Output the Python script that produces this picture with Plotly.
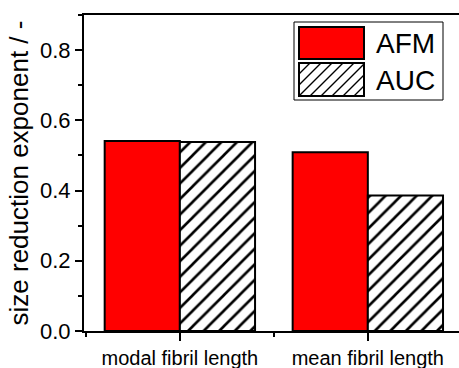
import plotly.graph_objects as go

categories = ["modal fibril length", "mean fibril length"]
afm_values = [0.541, 0.509]
auc_values = [0.538, 0.386]
series_names = ["AFM", "AUC"]

W, H = 459, 368
L, T, B, R = 84, 15, 37, 0
PW, PH = W - L - R, H - T - B

def px(x):
    return (x - L) / PW

def py(y):
    return (T + PH - y) / PH

FONT = "Liberation Sans, Arial, sans-serif"
xpos = list(range(len(categories)))

fig = go.Figure()
fig.add_bar(x=xpos, y=afm_values, name=series_names[0],
            marker=dict(color="#ff0000", line=dict(color="black", width=2)))
fig.add_bar(x=xpos, y=auc_values, name=series_names[1],
            marker=dict(color="white", line=dict(color="black", width=2),
                        pattern=dict(shape="/", fgcolor="#000000", fgopacity=1,
                                     bgcolor="white", size=11, solidity=0.24)))

# custom legend
shapes = []
shapes.append(dict(type="rect", xref="paper", yref="paper",
                   x0=px(294), x1=px(443), y0=py(100), y1=py(22),
                   line=dict(color="black", width=1), fillcolor="white", layer="above"))
shapes.append(dict(type="rect", xref="paper", yref="paper",
                   x0=px(299), x1=px(364), y0=py(59), y1=py(27),
                   line=dict(color="black", width=2), fillcolor="#ff0000", layer="above"))
shapes.append(dict(type="rect", xref="paper", yref="paper",
                   x0=px(299), x1=px(364), y0=py(96), y1=py(63),
                   line=dict(color="black", width=2), fillcolor="white", layer="above"))
x0s, x1s, y0s, y1s = 299, 364, 63, 96
hh = y1s - y0s
path = ""
c = x0s - hh
while c < x1s:
    ax, ay = c, y1s
    bx, by = c + hh, y0s
    if ax < x0s:
        ay = y1s - (x0s - ax)
        ax = x0s
    if bx > x1s:
        by = y0s + (bx - x1s)
        bx = x1s
    if bx > ax:
        path += f"M{px(ax)},{py(ay)} L{px(bx)},{py(by)} "
    c += 11
shapes.append(dict(type="path", xref="paper", yref="paper", path=path,
                   line=dict(color="black", width=1.4), layer="above"))

annotations = [
    dict(text="AFM", xref="paper", yref="paper", x=px(374), y=py(43),
         xanchor="left", yanchor="middle", showarrow=False,
         font=dict(family=FONT, size=28, color="black")),
    dict(text="AUC", xref="paper", yref="paper", x=px(374), y=py(80),
         xanchor="left", yanchor="middle", showarrow=False,
         font=dict(family=FONT, size=28, color="black")),
]

fig.update_layout(
    width=W, height=H,
    margin=dict(l=L, r=R, t=T, b=B, autoexpand=False),
    paper_bgcolor="white", plot_bgcolor="white",
    barmode="group", bargap=0.2, bargroupgap=0,
    showlegend=False,
    shapes=shapes, annotations=annotations,
    font=dict(family=FONT, color="black"),
)
fig.update_xaxes(
    range=[-0.51, 1.485], tickmode="array", tickvals=xpos, ticktext=categories,
    tickfont=dict(size=20), ticks="outside", ticklen=8, tickwidth=2, tickcolor="black",
    minor=dict(tickmode="array", tickvals=[-0.5, 0.5, 1.5], ticks="outside", ticklen=4,
               tickwidth=2, tickcolor="black"),
    showline=True, linecolor="black", linewidth=2, mirror=True,
    showgrid=False, zeroline=False, automargin=False,
)
fig.update_yaxes(
    range=[0, 0.9], tickmode="linear", tick0=0, dtick=0.2, tickformat=".1f",
    tickfont=dict(size=22), ticks="outside", ticklen=7, tickwidth=2, tickcolor="black",
    minor=dict(tickmode="linear", tick0=0.1, dtick=0.2, ticks="outside", ticklen=4,
               tickwidth=2, tickcolor="black"),
    title=dict(text="size reduction exponent / -", font=dict(size=26), standoff=4),
    showline=True, linecolor="black", linewidth=2, mirror=False,
    showgrid=False, zeroline=False, automargin=False,
)

fig.write_html("out.html", config={"displayModeBar": False},
               post_script="document.body.style.margin='0px';document.body.style.overflow='hidden';")
